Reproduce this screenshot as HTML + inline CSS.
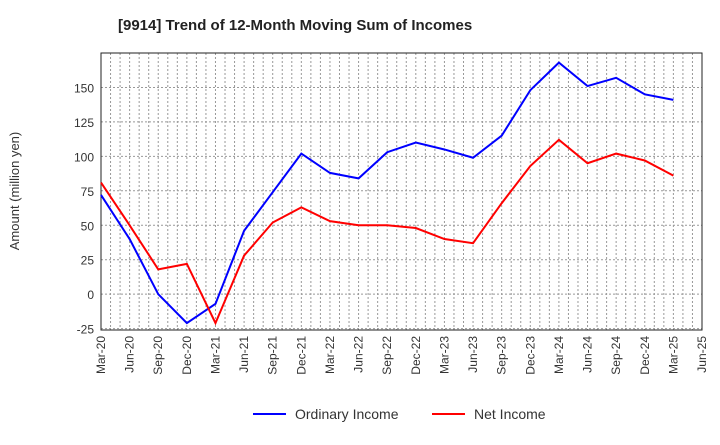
<!DOCTYPE html>
<html><head><meta charset="utf-8"><style>
body{margin:0;background:#fff;font-family:"Liberation Sans",sans-serif;}
</style></head><body>
<svg width="720" height="440" xmlns="http://www.w3.org/2000/svg" id="chart">
<text x="118" y="30" font-size="15" font-weight="bold" fill="#222">[9914]  Trend of 12-Month Moving Sum of Incomes</text>
<text transform="translate(19,191) rotate(-90)" text-anchor="middle" font-size="13" fill="#333">Amount (million yen)</text>
<g id="grid"></g><g id="axes"></g><g id="series"></g>
<g>
<line x1="253" y1="414" x2="286" y2="414" stroke="#0000ff" stroke-width="2"/>
<text x="295" y="419" font-size="14" fill="#333">Ordinary Income</text>
<line x1="432" y1="414" x2="465" y2="414" stroke="#ff0000" stroke-width="2"/>
<text x="474" y="419" font-size="14" fill="#333">Net Income</text>
</g>
</svg>
<script>
const xLabels=["Mar-20","Jun-20","Sep-20","Dec-20","Mar-21","Jun-21","Sep-21","Dec-21","Mar-22","Jun-22","Sep-22","Dec-22","Mar-23","Jun-23","Sep-23","Dec-23","Mar-24","Jun-24","Sep-24","Dec-24","Mar-25","Jun-25"];
const yTicks=[-25,0,25,50,75,100,125,150];
const ordinaryIncome=[72,40,0,-21,-7,46,74,102,88,84,103,110,105,99,115,148,168,151,157,145,141];
const netIncome=[81,50,18,22,-21,28,52,63,53,50,50,48,40,37,66,93,112,95,102,97,86];
const L=101,R=702,T=53,B=330,yMin=-26,yMax=175;
const NS="http://www.w3.org/2000/svg";
const xs=i=>L+(R-L)*i/(xLabels.length-1);
const ys=v=>B-(v-yMin)/(yMax-yMin)*(B-T);
function mk(tag,attrs,parent){const e=document.createElementNS(NS,tag);for(const k in attrs)e.setAttribute(k,attrs[k]);document.getElementById(parent).appendChild(e);return e;}
for(let m=1;m<(xLabels.length-1)*3;m++){const x=L+(R-L)*m/((xLabels.length-1)*3);
const g=mk('line',{x1:x,x2:x,y1:T,y2:B,stroke:'#999','stroke-dasharray':'2,2','stroke-width':1},'grid');

}
yTicks.forEach(v=>{const y=ys(v);
const g=mk('line',{x1:L,x2:R,y1:y,y2:y,stroke:'#999','stroke-dasharray':'2,2','stroke-width':1},'grid');


const t=mk('text',{x:L-7,y:y+5,'text-anchor':'end','font-size':12,fill:'#333'},'axes');t.textContent=v;

});
xLabels.forEach((l,i)=>{const x=xs(i);
const t=mk('text',{x:0,y:0,transform:`translate(${x+4},${B+6}) rotate(-90)`,'text-anchor':'end','font-size':12,fill:'#333'},'axes');t.textContent=l;

});
const fr=mk('rect',{x:L,y:T,width:R-L,height:B-T,fill:'none',stroke:'#222','stroke-width':1},'axes');


function line(data,color,name){const p=mk('polyline',{points:data.map((v,i)=>xs(i)+','+ys(v)).join(' '),fill:'none',stroke:color,'stroke-width':2},'series');

}
line(ordinaryIncome,'#0000ff','ordinary-income-line');
line(netIncome,'#ff0000','net-income-line');
</script>
</body></html>
